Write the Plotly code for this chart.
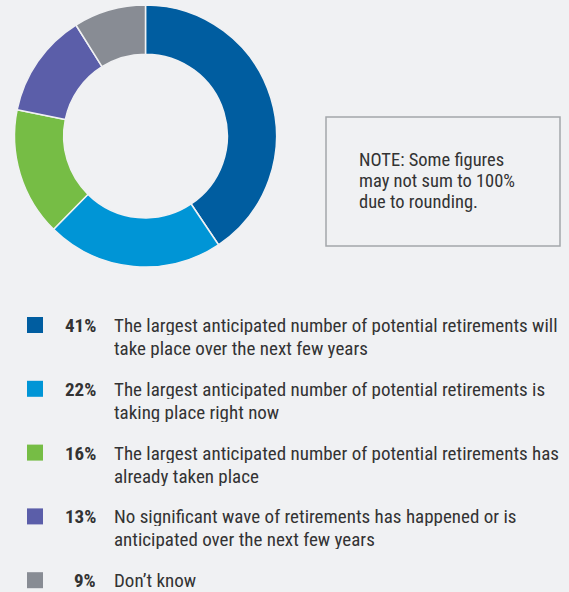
import plotly.graph_objects as go

# Survey answers (share of respondents, %)
pcts = [41, 22, 16, 13, 9]
answers = [
    ["The largest anticipated number of potential retirements will", "take place over the next few years"],
    ["The largest anticipated number of potential retirements is", "taking place right now"],
    ["The largest anticipated number of potential retirements has", "already taken place"],
    ["No significant wave of retirements has happened or is", "anticipated over the next few years"],
    ["Don\u2019t know"],
]
colors = ["#005da0", "#0095d6", "#76bd45", "#5b5ea9", "#888c94"]
note_lines = ["NOTE: Some figures", "may not sum to 100%", "due to rounding."]

W, H = 569, 592
BG = "#f0f1f3"
FONT = "Roboto Condensed, Roboto, sans-serif"
TXT = "#333333"

fig = go.Figure()

fig.add_trace(go.Pie(
    values=pcts,
    labels=[f"{p}%" for p in pcts],
    marker=dict(colors=colors, line=dict(color=BG, width=1.5)),
    hole=0.625,
    sort=False,
    direction="clockwise",
    rotation=0,
    textinfo="none",
    hoverinfo="label+percent",
    showlegend=False,
    domain=dict(x=[14.5 / W, 276.5 / W], y=[1 - 267 / H, 1 - 5 / H]),
))

shapes = []
annotations = []


def text_line(x, y, txt, anchor="left", size=19):
    # one line of text, box height kept to the line pitch
    return dict(x=x / W, y=1 - y / H, xref="paper", yref="paper", text=txt,
                showarrow=False, xanchor=anchor, yanchor="middle", height=20,
                font=dict(family=FONT, size=size, color=TXT))


# note box
shapes.append(dict(type="rect", xref="paper", yref="paper",
                   x0=326 / W, x1=560 / W, y0=1 - 246 / H, y1=1 - 117 / H,
                   line=dict(color="#a3a6ab", width=1.5), fillcolor=BG))
for i, line in enumerate(note_lines):
    annotations.append(text_line(357, 159.5 + i * 21, line, size=18.5))

# custom legend
for i, (p, lines, c) in enumerate(zip(pcts, answers, colors)):
    yc = 325 + i * 63.8
    shapes.append(dict(type="rect", xref="paper", yref="paper",
                       x0=27 / W, x1=43 / W, y0=1 - (yc + 8) / H, y1=1 - (yc - 8) / H,
                       line=dict(width=0), fillcolor=c))
    annotations.append(text_line(98, yc, f"<b>{p}%</b>", anchor="right"))
    for j, line in enumerate(lines):
        annotations.append(text_line(112, yc + j * 23, line))

fig.update_layout(
    width=W, height=H,
    margin=dict(l=0, r=0, t=0, b=0),
    paper_bgcolor=BG, plot_bgcolor=BG,
    shapes=shapes, annotations=annotations,
)

fig.write_html("out.html", config={"displayModeBar": False},
               post_script="document.body.style.margin='0';")
